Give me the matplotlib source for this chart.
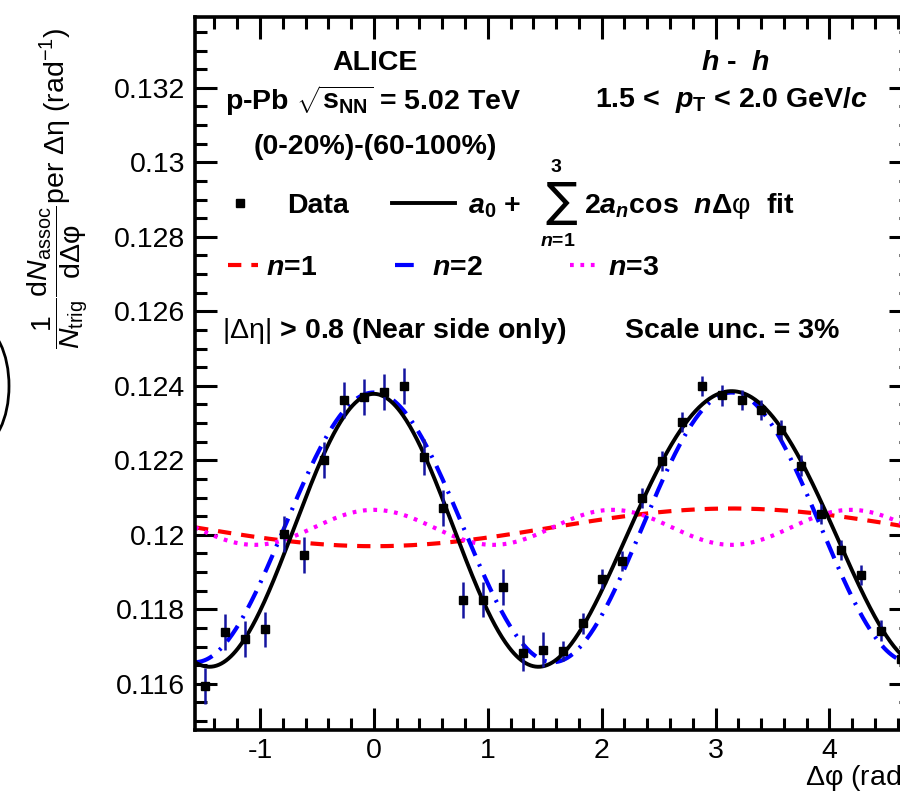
import numpy as np
import matplotlib
matplotlib.use("Agg")
import matplotlib.pyplot as plt
from matplotlib.lines import Line2D
from matplotlib.patches import Arc
from matplotlib.ticker import MultipleLocator

plt.rcParams['font.family'] = ['Liberation Sans', 'DejaVu Sans']
plt.rcParams['mathtext.fontset'] = 'custom'
plt.rcParams['mathtext.rm'] = 'Liberation Sans'
plt.rcParams['mathtext.it'] = 'Liberation Sans:italic'
plt.rcParams['mathtext.bf'] = 'Liberation Sans:bold'
plt.rcParams['mathtext.bfit'] = 'Liberation Sans:italic:bold'
plt.rcParams['axes.unicode_minus'] = False

# 36 bins in delta phi from -pi/2 to 3pi/2
n_bins = 36
data_y = [0.11595, 0.11739, 0.11721, 0.11746, 0.12003, 0.11946, 0.12200, 0.12361,
          0.12370, 0.12384, 0.12399, 0.12209, 0.12072, 0.11824, 0.11826, 0.11859,
          0.11682, 0.11692, 0.11689, 0.11762, 0.11882, 0.11929, 0.12099, 0.12198,
          0.12302, 0.12399, 0.12374, 0.12361, 0.12334, 0.12280, 0.12186, 0.12056,
          0.11960, 0.11893, 0.11743, 0.11667]
data_err = [0.00048] * 18 + [0.00027] * 18

# fourier fit coefficients  a0 + sum 2 a_n cos(n dphi)
a0 = 0.1202
a_n = [-0.000253, 0.00181, 0.000235]

bin_w = 2 * np.pi / n_bins
data_x = -np.pi / 2 + bin_w * (np.arange(n_bins) + 0.5)

W, H = 900, 791
fig = plt.figure(figsize=(9, 7.91), dpi=100)
ax = fig.add_axes([195 / W, 1 - 730 / H, 715.5 / W, 713 / H])

phi = np.linspace(-np.pi / 2, 3 * np.pi / 2, 600)
comp = [a0 + 2 * a * np.cos((i + 1) * phi) for i, a in enumerate(a_n)]
fit = a0 + sum(2 * a * np.cos((i + 1) * phi) for i, a in enumerate(a_n))

red_d = (3.2, 2.4)
blue_d = (4.5, 2.2, 0.6, 2.2)
mag_d = (0.9, 1.6)
ax.plot(phi, comp[0], color='#ff0000', lw=3.0, dashes=red_d)
ax.plot(phi, comp[2], color='#ff00ff', lw=3.0, dashes=mag_d)
ax.plot(phi, comp[1], color='#0000ff', lw=3.0, dashes=blue_d)
ax.plot(phi, fit, color='black', lw=2.8)
ax.errorbar(data_x, data_y, yerr=data_err, fmt='s', color='black', ms=5.5,
            ecolor='#1414a0', elinewidth=1.8, capsize=0, zorder=5)

ax.set_xlim(-np.pi / 2, 3 * np.pi / 2)
ax.set_ylim(0.11476, 0.1339)
ax.xaxis.set_major_locator(MultipleLocator(1))
ax.xaxis.set_minor_locator(MultipleLocator(0.2))
ax.yaxis.set_major_locator(MultipleLocator(0.002))
ax.yaxis.set_minor_locator(MultipleLocator(0.0005))
ax.yaxis.set_major_formatter(matplotlib.ticker.FuncFormatter(lambda v, p: ('%.3f' % v).rstrip('0')))
ax.tick_params(which='both', direction='in', top=True, right=True, width=2.2, labelsize=20.5)
ax.tick_params(which='major', length=16)
ax.tick_params(which='minor', length=8.5)
ax.tick_params(axis='y', pad=7)
ax.tick_params(axis='x', pad=6)
for s in ax.spines.values():
    s.set_linewidth(2.6)


def fxy(px, py):
    return px / W, 1 - py / H


bold = dict(fontsize=20.5, fontweight='bold')

fig.text(*fxy(375, 70), 'ALICE', ha='center', va='baseline', **bold)
fig.text(*fxy(225, 110), r'p-Pb $\sqrt{\mathbf{s}_{\mathbf{NN}}}$ = 5.02 TeV', ha='left', va='baseline', **bold)
fig.text(*fxy(375, 154), '(0-20%)-(60-100%)', ha='center', va='baseline', **bold)
fig.text(*fxy(735, 70), r'$\mathbfit{h}$ -  $\mathbfit{h}$', ha='center', va='baseline', **bold)
fig.text(*fxy(868, 107), r'1.5 <  $\mathbfit{p}_{\mathbf{T}}$ < 2.0 GeV/$\mathbfit{c}$', ha='right', va='baseline', **bold)

# legend row 1
fig.add_artist(Line2D([240 / W], [1 - 203 / H], marker='s', color='black', ms=5.5, ls='none'))
fig.text(*fxy(287, 213), 'Data', ha='left', va='baseline', **bold)
fig.add_artist(Line2D([392 / W, 455 / W], [1 - 203 / H] * 2, color='black', lw=2.8))
fig.text(*fxy(468, 213), r'$\mathbfit{a}_{\mathbf{0}}$ +', ha='left', va='baseline', **bold)
fig.text(*fxy(561, 203), '\u2211', ha='center', va='center', fontsize=34, family='DejaVu Sans')
fig.text(*fxy(556, 168), '3', ha='center', va='center', fontsize=14, fontweight='bold')
fig.text(*fxy(558, 242), r'$\mathbfit{n}$=1', ha='center', va='center', fontsize=14, fontweight='bold')
fig.text(*fxy(584, 213),
         r'2$\mathbfit{a}_{\mathbfit{n}}$cos  $\mathbfit{n}\mathbf{\Delta}\mathrm{\varphi}$  fit',
         ha='left', va='baseline', **bold)

# legend row 2
fig.add_artist(Line2D([228 / W, 258 / W], [1 - 265 / H] * 2, color='#ff0000', lw=3.0, dashes=red_d))
fig.add_artist(Line2D([395 / W, 420 / W], [1 - 265 / H] * 2, color='#0000ff', lw=3.0, dashes=blue_d))
fig.add_artist(Line2D([570 / W, 600 / W], [1 - 265 / H] * 2, color='#ff00ff', lw=3.0, dashes=mag_d))
for px, lab in [(266, '1'), (432, '2'), (608, '3')]:
    fig.text(*fxy(px, 275), r'$\mathbfit{n}$=' + lab, ha='left', va='baseline', **bold)

fig.text(*fxy(222, 338), r'$|\Delta\mathrm{\eta}|$ > 0.8 (Near side only)', ha='left', va='baseline', **bold)
fig.text(*fxy(625, 338), 'Scale unc. = 3%', ha='left', va='baseline', **bold)

# axis titles
fig.text(*fxy(58, 188),
         r'$\dfrac{1}{\mathit{N}_{\mathrm{trig}}}\dfrac{\mathrm{d}\mathit{N}_{\mathrm{assoc}}}{\mathrm{d\Delta\varphi}}$'
         r'per $\Delta\mathrm{\eta}$ (rad$^{-1}$)', rotation=90, ha='center', va='center', fontsize=20.5)
fig.text(*fxy(805, 778), r'$\Delta\mathrm{\varphi}$ (rad)', ha='left', va='center', fontsize=20.5)

# piece of a bracket from the neighbouring panel
fig.add_artist(Arc((-21 / W, 1 - 386 / H), 60 / W, 120 / H, theta1=-90, theta2=90,
                   transform=fig.transFigure, lw=2.0, color='black'))

fig.savefig('out.png', dpi=100)
